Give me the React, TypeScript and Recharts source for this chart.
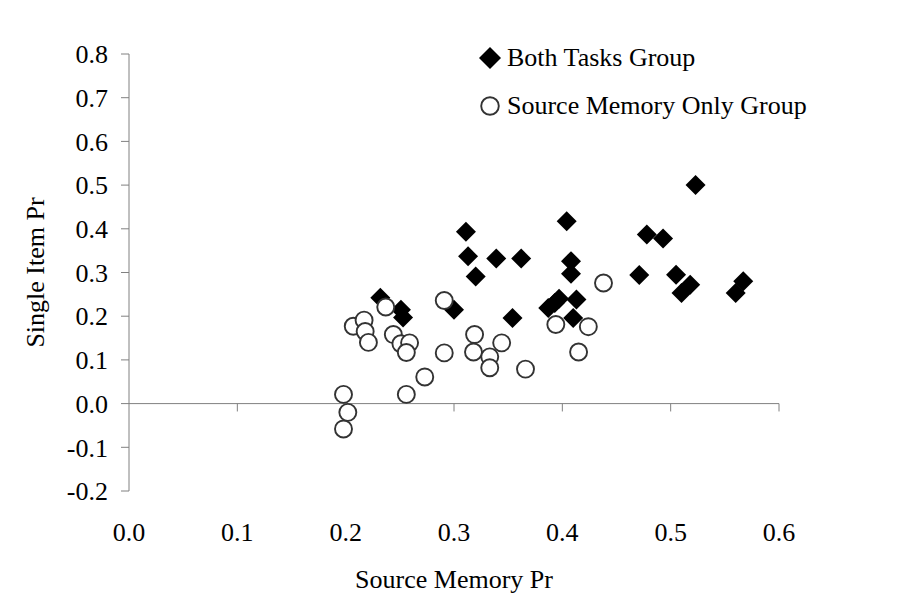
import React from 'react';
import { ScatterChart, Scatter, XAxis, YAxis, ReferenceLine, Legend } from 'recharts';

const bothTasksX = [0.232, 0.251, 0.253, 0.300, 0.311, 0.313, 0.339, 0.362, 0.320, 0.404, 0.408, 0.408, 0.354, 0.387, 0.393, 0.397, 0.413, 0.410, 0.523, 0.478, 0.493, 0.471, 0.505, 0.518, 0.510, 0.567, 0.560];
const bothTasksY = [0.242, 0.215, 0.197, 0.215, 0.393, 0.337, 0.332, 0.332, 0.291, 0.417, 0.326, 0.297, 0.196, 0.219, 0.230, 0.240, 0.238, 0.196, 0.500, 0.387, 0.378, 0.294, 0.295, 0.272, 0.253, 0.280, 0.253];
const sourceOnlyX = [0.198, 0.202, 0.198, 0.207, 0.217, 0.218, 0.221, 0.237, 0.244, 0.251, 0.259, 0.256, 0.256, 0.273, 0.291, 0.291, 0.319, 0.318, 0.333, 0.333, 0.344, 0.366, 0.394, 0.424, 0.415, 0.438];
const sourceOnlyY = [0.021, -0.020, -0.058, 0.177, 0.191, 0.165, 0.140, 0.221, 0.158, 0.137, 0.139, 0.117, 0.021, 0.061, 0.116, 0.236, 0.158, 0.118, 0.107, 0.082, 0.139, 0.079, 0.181, 0.176, 0.118, 0.276];

const xTicks = [0, 0.1, 0.2, 0.3, 0.4, 0.5, 0.6];
const yTicks = [-0.2, -0.1, 0, 0.1, 0.2, 0.3, 0.4, 0.5, 0.6, 0.7, 0.8];

const seriesNames = ['Both Tasks Group', 'Source Memory Only Group'];
const xTitle = 'Source Memory Pr';
const yTitle = 'Single Item Pr';

const bothData = bothTasksX.map((x, i) => ({ x, y: bothTasksY[i] }));
const sourceData = sourceOnlyX.map((x, i) => ({ x, y: sourceOnlyY[i] }));

const FONT = '"Liberation Serif", "Times New Roman", serif';
const FS = 26;
const AXIS = '#808080';

const Diamond = (props: any) => {
  const { cx, cy } = props;
  const r = 10;
  return <path d={`M${cx},${cy - r}L${cx + r},${cy}L${cx},${cy + r}L${cx - r},${cy}Z`} fill="#000" />;
};

const Ring = (props: any) => {
  const { cx, cy } = props;
  return <circle cx={cx} cy={cy} r={8.5} fill="#fff" stroke="#333" strokeWidth={1.9} />;
};

const LegendContent = () => (
  <div style={{ fontFamily: FONT, fontSize: FS, color: '#000' }}>
    {seriesNames.map((name, i) => (
      <div key={name} style={{ display: 'flex', alignItems: 'center', height: 48 }}>
        <svg width={24} height={24} style={{ marginRight: 5 }}>
          {i === 0 ? (
            <path d="M12,1L23,12L12,23L1,12Z" fill="#000" />
          ) : (
            <circle cx={12} cy={12} r={8.8} fill="#fff" stroke="#333" strokeWidth={1.9} />
          )}
        </svg>
        <span style={{ whiteSpace: 'nowrap' }}>{name}</span>
      </div>
    ))}
  </div>
);

const YTitle = (props: any) => {
  const vb = props.viewBox || {};
  const cx = (vb.x ?? 0) + 35;
  const cy = (vb.y ?? 0) + (vb.height ?? 0) / 2;
  return (
    <text
      x={cx}
      y={cy}
      transform={`rotate(-90, ${cx}, ${cy})`}
      textAnchor="middle"
      dominantBaseline="central"
      fontFamily={FONT}
      fontSize={FS}
      fill="#000"
      stroke="none"
    >
      {yTitle}
    </text>
  );
};

export default function App() {
  return (
    <div style={{ position: 'absolute', left: 0, top: 0, width: 906, height: 603, background: '#fff' }}>
      <ScatterChart width={906} height={603} margin={{ top: 54, right: 127, bottom: 0, left: 0 }}>
        <XAxis
          type="number"
          dataKey="x"
          domain={[0, 0.6]}
          ticks={xTicks}
          interval={0}
          tickFormatter={(v: number) => v.toFixed(1)}
          axisLine={false}
          tickLine={false}
          tickSize={0}
          tickMargin={32}
          height={112}
          tick={{ fontFamily: FONT, fontSize: FS, fill: '#000' }}
          label={{ value: xTitle, position: 'insideBottom', offset: 15, fontFamily: FONT, fontSize: FS, fill: '#000' }}
        />
        <YAxis
          type="number"
          dataKey="y"
          domain={[-0.2, 0.8]}
          ticks={yTicks}
          interval={0}
          tickFormatter={(v: number) => v.toFixed(1)}
          width={129}
          axisLine={{ stroke: AXIS, strokeWidth: 1 }}
          tickLine={{ stroke: AXIS, strokeWidth: 1 }}
          tickSize={8}
          tickMargin={13}
          tick={{ fontFamily: FONT, fontSize: FS, fill: '#000' }}
          label={<YTitle />}
        />
        <ReferenceLine y={0} stroke={AXIS} strokeWidth={1} ifOverflow="visible" />
        {xTicks.slice(1).map((t) => (
          <ReferenceLine
            key={t}
            segment={[{ x: t, y: 0 }, { x: t, y: -0.018 }]}
            stroke={AXIS}
            strokeWidth={1}
            ifOverflow="visible"
          />
        ))}
        <Legend
          layout="horizontal"
          verticalAlign="middle"
          align="center"
          content={<LegendContent />}
          wrapperStyle={{ position: 'absolute', left: 478, top: 34, width: 380 }}
        />
        <Scatter name={seriesNames[0]} data={bothData} shape={<Diamond />} isAnimationActive={false} />
        <Scatter name={seriesNames[1]} data={sourceData} shape={<Ring />} isAnimationActive={false} />
      </ScatterChart>
    </div>
  );
}
